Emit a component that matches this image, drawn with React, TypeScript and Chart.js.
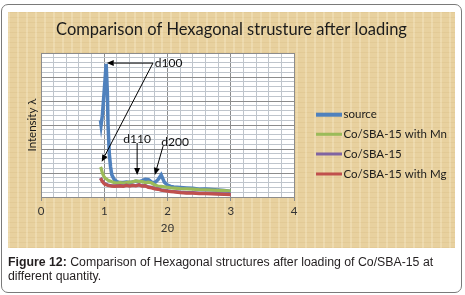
import React, { useEffect, useRef } from "react";
import { Chart, registerables } from "chart.js";

Chart.register(...registerables);

// ---- data ----
const twoTheta = [
  0.94, 0.95, 0.97, 0.99, 1.01, 1.03, 1.04, 1.05, 1.06, 1.08, 1.1, 1.12, 1.16, 1.2, 1.25, 1.3, 1.35,
  1.4, 1.45, 1.5, 1.55, 1.6, 1.65, 1.7, 1.75, 1.8, 1.85, 1.9, 1.95, 2.0, 2.05, 2.1, 2.2, 2.3, 2.4,
  2.5, 2.6, 2.7, 2.8, 2.9, 3.0,
];
const source = [
  3.2, 3.0, 3.4, 4.1, 4.8, 5.55, 5.55, 4.3, 3.0, 1.8, 1.25, 0.92, 0.72, 0.64, 0.6, 0.6, 0.62,
  0.6, 0.63, 0.66, 0.64, 0.68, 0.74, 0.72, 0.62, 0.6, 0.72, 0.92, 0.62, 0.5, 0.44, 0.42, 0.4, 0.38,
  0.36, 0.32, 0.33, 0.31, 0.29, 0.27, 0.23,
];
const coSbaMn = [
  1.25, 1.2, 1.0, 0.88, 0.8, 0.76, 0.74, 0.72, 0.7, 0.68, 0.66, 0.63, 0.6, 0.58, 0.6, 0.58, 0.6,
  0.62, 0.63, 0.67, 0.65, 0.64, 0.6, 0.62, 0.58, 0.5, 0.46, 0.44, 0.42, 0.4, 0.38, 0.37, 0.35, 0.34,
  0.33, 0.31, 0.3, 0.29, 0.28, 0.27, 0.25,
];
const coSba = [
  0.8, 0.76, 0.66, 0.6, 0.55, 0.53, 0.52, 0.51, 0.5, 0.49, 0.48, 0.47, 0.46, 0.46, 0.47, 0.46, 0.49,
  0.47, 0.49, 0.48, 0.51, 0.47, 0.47, 0.42, 0.4, 0.36, 0.34, 0.3, 0.28, 0.26, 0.24, 0.23, 0.2, 0.18,
  0.18, 0.16, 0.16, 0.15, 0.14, 0.13, 0.12,
];
const coSbaMg = [
  0.78, 0.74, 0.64, 0.58, 0.53, 0.51, 0.5, 0.49, 0.48, 0.47, 0.46, 0.45, 0.44, 0.45, 0.46, 0.44, 0.48,
  0.45, 0.48, 0.46, 0.5, 0.45, 0.46, 0.4, 0.38, 0.34, 0.32, 0.28, 0.26, 0.24, 0.22, 0.21, 0.18, 0.16,
  0.16, 0.14, 0.14, 0.13, 0.12, 0.11, 0.1,
];
const xTickLabels = ["0", "1", "2", "3", "4"];
const seriesNames = ["source", "Co/SBA-15 with Mn", "Co/SBA-15", "Co/SBA-15 with Mg"];
const seriesColors = ["#4f81bd", "#9bbb59", "#8064a2", "#c0504d"];
const peakLabels = ["d100", "d110", "d200"];
const chartTitle = "Comparison of Hexagonal strusture after loading";
const yTitle = "Intensity \u03bb";
const xTitle = "2\u03b8";

const isMajor = (v: number) => Math.abs(v - Math.round(v)) < 1e-6;
const MINOR = "#bfc5cc";
const MAJOR = "#8c8c8c";
const TEXT_FONT = '"Lato", "Liberation Sans", sans-serif';

function arrow(ctx: CanvasRenderingContext2D, x1: number, y1: number, x2: number, y2: number) {
  const ang = Math.atan2(y2 - y1, x2 - x1);
  const len = 7;
  const w = 3;
  const bx = x2 - len * Math.cos(ang);
  const by = y2 - len * Math.sin(ang);
  ctx.beginPath();
  ctx.moveTo(x1, y1);
  ctx.lineTo(bx, by);
  ctx.stroke();
  ctx.beginPath();
  ctx.moveTo(x2, y2);
  ctx.lineTo(bx + w * Math.sin(ang), by - w * Math.cos(ang));
  ctx.lineTo(bx - w * Math.sin(ang), by + w * Math.cos(ang));
  ctx.closePath();
  ctx.fill();
}

const decor = {
  id: "decor",
  beforeDraw(chart: any) {
    const { ctx, chartArea: a } = chart;
    ctx.save();
    ctx.fillStyle = "#ffffff";
    ctx.fillRect(a.left, a.top, a.right - a.left, a.bottom - a.top);
    ctx.restore();
  },
  afterDraw(chart: any) {
    const { ctx, chartArea: a, scales } = chart;
    const px = (v: number) => scales.x.getPixelForValue(v);
    const py = (v: number) => scales.y.getPixelForValue(v);
    ctx.save();
    // title
    ctx.fillStyle = "#1b1b1b";
    ctx.textAlign = "center";
    ctx.textBaseline = "middle";
    ctx.font = `16.5px ${TEXT_FONT}`;
    ctx.fillText(chartTitle, chart.width / 2, 18);
    // x title
    ctx.font = `11.5px ${TEXT_FONT}`;
    ctx.fillStyle = "#333";
    ctx.fillText(xTitle, (a.left + a.right) / 2, 216);
    // y title
    ctx.save();
    ctx.translate(24.5, (a.top + a.bottom) / 2);
    ctx.rotate(-Math.PI / 2);
    ctx.fillStyle = "#1b1b1b";
    ctx.fillText(yTitle, 0, 0);
    ctx.restore();

    // annotations
    ctx.strokeStyle = "#000";
    ctx.fillStyle = "#000";
    ctx.lineWidth = 1;
    arrow(ctx, px(1.77), py(5.58), px(1.04), py(5.58));
    arrow(ctx, px(1.77), py(5.58), px(0.96), py(1.47));
    arrow(ctx, px(1.52), py(2.25), px(1.52), py(0.92));
    arrow(ctx, px(1.93), py(2.12), px(1.8), py(0.92));
    ctx.font = `12px ${TEXT_FONT}`;
    ctx.fillStyle = "#111";
    ctx.textAlign = "left";
    ctx.fillText(peakLabels[0], px(1.8), py(5.58));
    ctx.textAlign = "center";
    ctx.fillText(peakLabels[1], px(1.52), py(2.42));
    ctx.fillText(peakLabels[2], px(2.12), py(2.29));

    // legend
    const rows = [102.7, 122.3, 142, 162];
    ctx.font = `11.5px ${TEXT_FONT}`;
    ctx.textAlign = "left";
    seriesNames.forEach((name, i) => {
      ctx.strokeStyle = seriesColors[i];
      ctx.lineWidth = i === 0 ? 4 : 3;
      ctx.beginPath();
      ctx.moveTo(308, rows[i]);
      ctx.lineTo(334, rows[i]);
      ctx.stroke();
      ctx.fillStyle = "#1b1b1b";
      ctx.fillText(name, 335.5, rows[i]);
    });
    ctx.restore();
  },
};

export default function App() {
  const ref = useRef<HTMLCanvasElement | null>(null);
  useEffect(() => {
    if (!ref.current) return;
    const mk = (vals: number[]) => twoTheta.map((x, i) => ({ x, y: vals[i] }));
    const all = [source, coSbaMn, coSba, coSbaMg];
    const chart = new Chart(ref.current, {
      type: "line",
      data: {
        datasets: all.map((vals, i) => ({
          label: seriesNames[i],
          data: mk(vals),
          borderColor: seriesColors[i],
          backgroundColor: seriesColors[i],
          borderWidth: i === 0 ? 3.5 : 3.2,
          pointRadius: 0,
          tension: 0,
          order: 3 - i,
        })),
      },
      options: {
        animation: false,
        responsive: false,
        events: [],
        layout: { padding: { left: 0, right: 161, top: 41, bottom: 0 } },
        plugins: { legend: { display: false }, tooltip: { enabled: false }, title: { display: false } },
        scales: {
          x: {
            type: "linear",
            min: 0,
            max: 4,
            afterFit: (s: any) => {
              s.height = 51;
            },
            ticks: {
              stepSize: 0.2,
              autoSkip: false,
              maxRotation: 0,
              padding: 3,
              color: "#333",
              font: { family: TEXT_FONT, size: 11.5 },
              callback: (v: any) => (isMajor(Number(v)) ? xTickLabels[Math.round(Number(v))] : ""),
            },
            grid: {
              color: (c: any) => (c.tick && isMajor(c.tick.value) ? MAJOR : MINOR),
              tickColor: (c: any) => (c.tick && isMajor(c.tick.value) ? MAJOR : "rgba(0,0,0,0)"),
              tickLength: 4,
              lineWidth: 1,
            },
            border: { color: MAJOR },
          },
          y: {
            type: "linear",
            min: 0,
            max: 6,
            afterFit: (s: any) => {
              s.width = 33;
            },
            ticks: { stepSize: 0.2, display: false },
            grid: {
              color: (c: any) => (c.tick && isMajor(c.tick.value) ? MAJOR : MINOR),
              drawTicks: false,
              lineWidth: 1,
            },
            border: { color: MAJOR },
          },
        },
      },
      plugins: [decor],
    } as any);
    return () => chart.destroy();
  }, []);

  return (
    <div style={{ position: "relative", width: 465, height: 295 }}>
      <div
        style={{
          position: "fixed",
          left: 1,
          top: 4,
          width: 459,
          height: 287,
          border: "1.5px solid #7a7a7a",
          borderRadius: 7,
          background: "#fff",
        }}
      />
      <div
        style={{
          position: "fixed",
          left: 8,
          top: 12,
          width: 447,
          height: 236,
          backgroundColor: "#e8d19f",
          backgroundImage:
            "repeating-linear-gradient(90deg, rgba(255,248,225,0.25) 0px, rgba(255,248,225,0.25) 2px, rgba(0,0,0,0) 2px, rgba(0,0,0,0) 9px), repeating-linear-gradient(0deg, rgba(180,140,70,0.10) 0px, rgba(180,140,70,0.10) 1px, rgba(0,0,0,0) 1px, rgba(0,0,0,0) 5px)",
        }}
      >
        <canvas ref={ref} width={447} height={236} style={{ display: "block", width: 447, height: 236 }} />
      </div>
      <div
        style={{
          position: "fixed",
          left: 8,
          top: 255,
          width: 452,
          fontFamily: '"Liberation Sans", Arial, sans-serif',
          fontSize: 12.3,
          lineHeight: "14px",
          color: "#231f20",
        }}
      >
        <b>Figure 12:</b> Comparison of Hexagonal structures after loading of Co/SBA-15 at different quantity.
      </div>
    </div>
  );
}
